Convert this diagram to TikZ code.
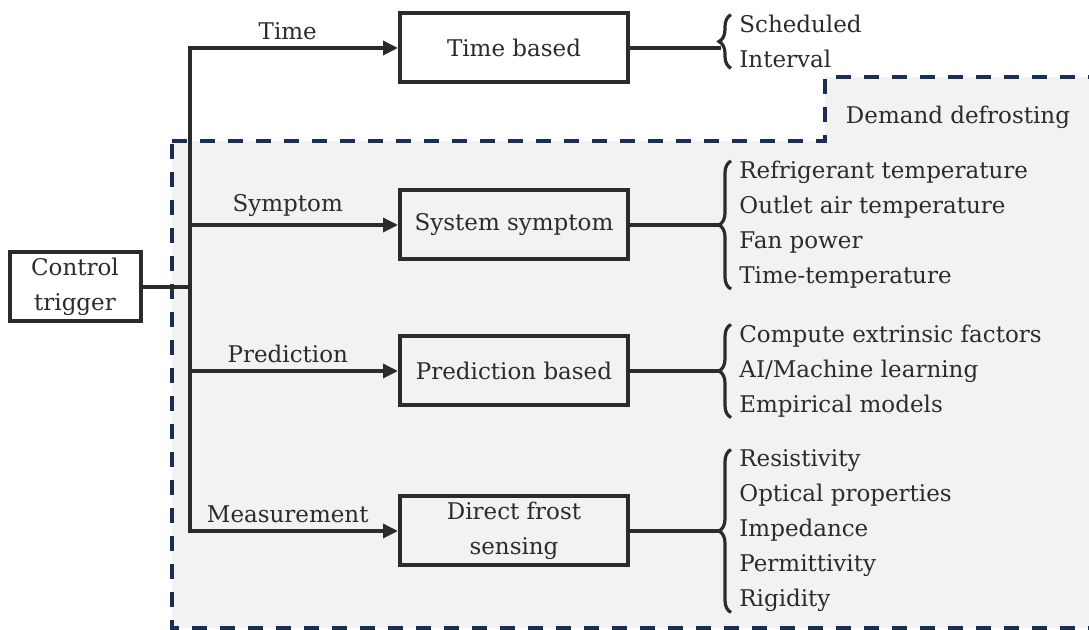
\documentclass[tikz,border=0pt]{standalone}
\usepackage{fontspec}
\setmainfont{DejaVu Serif}
\usetikzlibrary{positioning, arrows.meta, decorations.pathreplacing}
\definecolor{ink}{HTML}{2B2B2B}
\definecolor{navy}{HTML}{1B2D52}
\definecolor{shade}{HTML}{F2F2F2}

\begin{document}
\begin{tikzpicture}[x=0.5pt, y=-0.5pt, font=\fontsize{11.5}{17.5}\selectfont, text=ink,
    box/.style={draw=ink, line width=2pt, minimum width=114pt, minimum height=34.5pt, align=center, inner sep=2pt},
    flow/.style={draw=ink, line width=1.7pt, line cap=rect, -{Triangle[length=7.5pt,width=7pt]}},
    link/.style={draw=ink, line width=1.7pt, line cap=rect},
    curly/.style={draw=ink, line width=1.6pt, decorate, decoration={brace, amplitude=6pt}},
    items/.style={align=left, inner sep=0pt, right=54.5pt of #1}]
    \useasboundingbox (0,0) rectangle (1089,630);

    % demand defrosting region
    \path[fill=shade, draw=navy, line width=1.8pt, dash pattern=on 7.5pt off 6.5pt]
        (172,141) -- (825,141) -- (825,77) -- (1100,77) -- (1100,628) -- (172,628) -- cycle;
    \node (demand) at (958,117) {Demand defrosting};

    \node[box, minimum width=65.5pt] (trigger) at (75,287) {Control\\trigger};
    \node[box] (time) at (514,48) {Time based};
    \node[box] (symptom) at (514,225) {System symptom};
    \node[box] (predict) at (514,371) {Prediction based};
    \node[box] (sensing) at (514,531) {Direct frost\\sensing};

    \coordinate (jc) at (190,287);
    \coordinate (jt) at (190,48);
    \coordinate (jb) at (190,531);

    \draw[link] (trigger) -- (jc);
    \draw[link] (jt) -- (jb);
    \draw[flow] (jt) -- node[above, pos=0.47] {Time} (time);
    \draw[flow] (jt |- symptom) -- node[above, pos=0.47] {Symptom} (symptom);
    \draw[flow] (jt |- predict) -- node[above, pos=0.47] {Prediction} (predict);
    \draw[flow] (jb) -- node[above, pos=0.47] {Measurement} (sensing);

    % lists behind braces
    \node[items=time, yshift=3.25pt] (ltime) {Scheduled\\Interval};
    \node[items=symptom] (lsymptom) {Refrigerant temperature\\Outlet air temperature\\Fan power\\Time-temperature};
    \node[items=predict] (lpredict) {Compute extrinsic factors\\AI/Machine learning\\Empirical models};
    \node[items=sensing] (lsensing) {Resistivity\\Optical properties\\Impedance\\Permittivity\\Rigidity};

    \foreach \b/\l in {time/ltime, symptom/lsymptom, predict/lpredict, sensing/lsensing} {
        \draw[curly] ([xshift=-4pt]\l.south west) -- ([xshift=-4pt]\l.north west);
        \coordinate (t\b) at ([xshift=-10pt]\l.west);
        \draw[link] (\b.east) -- (\b.east -| t\b);
    }
\end{tikzpicture}
\end{document}
